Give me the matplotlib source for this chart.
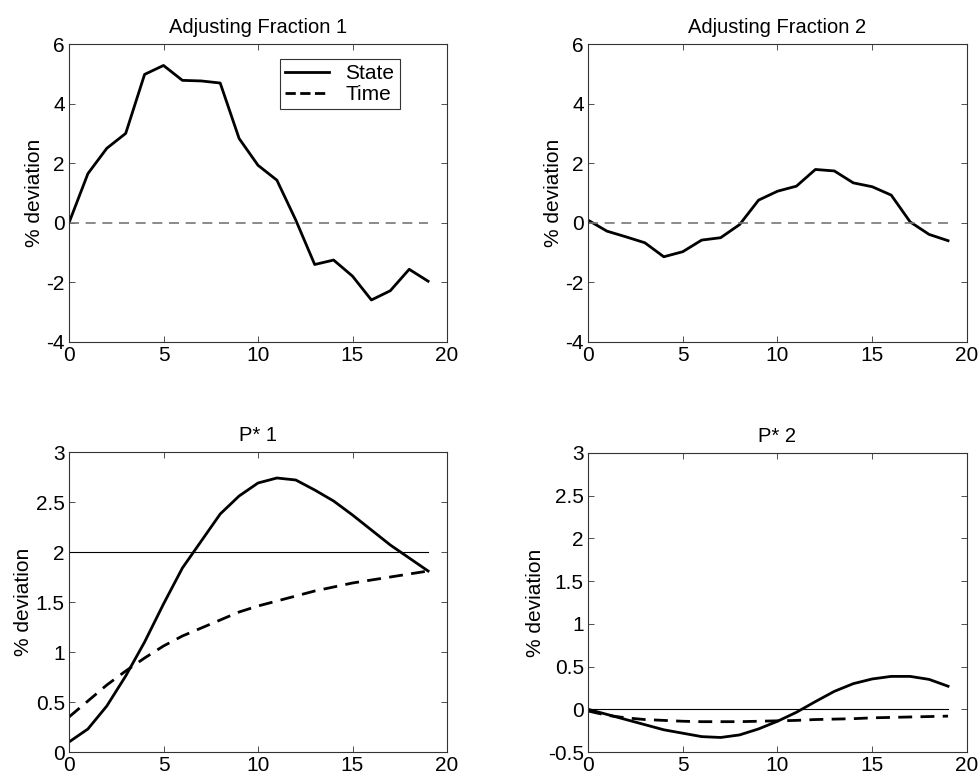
import matplotlib
matplotlib.use("Agg")
import matplotlib.pyplot as plt

plt.rcParams['font.family'] = ['Liberation Sans', 'DejaVu Sans']

periods = list(range(20))

# adjusting fractions (time-dependent model stays at zero)
frac1_state = [0.0, 1.65, 2.5, 3.0, 4.98, 5.28, 4.78, 4.76, 4.69, 2.83,
               1.93, 1.43, 0.09, -1.40, -1.25, -1.79, -2.59, -2.28, -1.56, -1.96]
frac2_state = [0.09, -0.28, -0.47, -0.67, -1.14, -0.97, -0.58, -0.50, -0.06, 0.76,
               1.06, 1.23, 1.79, 1.74, 1.34, 1.21, 0.93, 0.03, -0.39, -0.60]
frac_time = [0.0] * 20

pstar1_state = [0.10, 0.23, 0.46, 0.76, 1.10, 1.48, 1.84, 2.11, 2.38, 2.56,
                2.69, 2.74, 2.72, 2.62, 2.51, 2.37, 2.22, 2.07, 1.94, 1.81]
pstar1_time = [0.35, 0.51, 0.67, 0.81, 0.94, 1.06, 1.16, 1.24, 1.32, 1.40,
               1.46, 1.51, 1.56, 1.61, 1.65, 1.69, 1.72, 1.75, 1.78, 1.81]
pstar2_state = [0.0, -0.06, -0.12, -0.18, -0.24, -0.28, -0.32, -0.33, -0.30, -0.23,
                -0.14, -0.035, 0.09, 0.21, 0.30, 0.355, 0.385, 0.385, 0.35, 0.27]
pstar2_time = [-0.02, -0.07, -0.10, -0.12, -0.13, -0.14, -0.145, -0.145, -0.145, -0.14,
               -0.135, -0.13, -0.12, -0.115, -0.11, -0.10, -0.095, -0.09, -0.085, -0.08]

fig = plt.figure(figsize=(9.79, 7.8), dpi=100)
W, H = 979, 780


def make_ax(x0, x1, ytop, ybot):
    return fig.add_axes([x0 / W, 1 - ybot / H, (x1 - x0) / W, (ybot - ytop) / H])


def style(ax, title, ylim, yticks):
    ax.set_xlim(0, 20)
    ax.set_ylim(*ylim)
    ax.set_xticks([0, 5, 10, 15, 20])
    ax.set_yticks(yticks)
    ax.set_yticklabels([f"{t:g}" for t in yticks])
    ax.tick_params(direction='in', top=True, right=True, labelsize=15, length=4,
                   width=0.6, colors='#333333', labelcolor='black', pad=3)
    for s in ax.spines.values():
        s.set_linewidth(0.8)
        s.set_color('#333333')
    ax.set_title(title, fontsize=14.5, pad=8)
    ax.set_ylabel('% deviation', fontsize=15, labelpad=2)


ax1 = make_ax(69, 447, 44, 342)
ax1.plot(periods, frac1_state, color='black', lw=2, label='State')
ax1.plot(periods, frac_time, color='#777777', lw=1.2, ls=(0, (6, 4)))
ax1.plot([], [], color='black', lw=2, ls='--', label='Time')
style(ax1, 'Adjusting Fraction 1', (-4, 6), [-4, -2, 0, 2, 4, 6])
leg = ax1.legend(loc='upper right', fontsize=15, fancybox=False, framealpha=1,
                 edgecolor='#333333', handlelength=2.1, borderpad=0.25,
                 labelspacing=0.1, handletextpad=0.8,
                 bbox_to_anchor=(0.902, 0.985))
leg.get_frame().set_linewidth(0.8)

ax2 = make_ax(588, 967, 44, 342)
ax2.plot(periods, frac2_state, color='black', lw=2)
ax2.plot(periods, frac_time, color='#777777', lw=1.2, ls=(0, (6, 4)))
style(ax2, 'Adjusting Fraction 2', (-4, 6), [-4, -2, 0, 2, 4, 6])

ax3 = make_ax(69, 447, 452, 752)
ax3.plot([0, 19], [2, 2], color='black', lw=0.8)
ax3.plot(periods, pstar1_state, color='black', lw=2)
ax3.plot(periods, pstar1_time, color='black', lw=2, ls=(0, (5, 3)))
style(ax3, 'P* 1', (0, 3), [0, 0.5, 1, 1.5, 2, 2.5, 3])

ax4 = make_ax(588, 967, 453, 752)
ax4.plot([0, 19], [0, 0], color='black', lw=0.8)
ax4.plot(periods, pstar2_state, color='black', lw=2)
ax4.plot(periods, pstar2_time, color='black', lw=2, ls=(0, (5, 3)))
style(ax4, 'P* 2', (-0.5, 3), [-0.5, 0, 0.5, 1, 1.5, 2, 2.5, 3])

fig.savefig('out.png', dpi=100)
